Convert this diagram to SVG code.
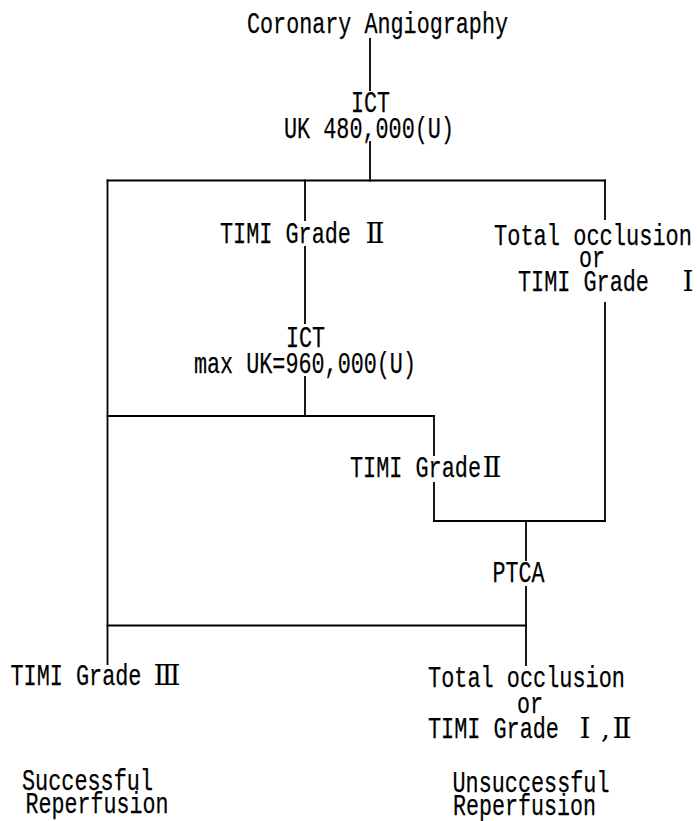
<svg xmlns="http://www.w3.org/2000/svg" width="697" height="821" viewBox="0 0 697 821">
<style>
.t{font-family:"Liberation Mono","DejaVu Serif","Noto Sans CJK JP",monospace;font-size:30px;fill:#000;stroke:#000;stroke-width:0.25;white-space:pre}
.n{font-family:"DejaVu Serif","Noto Sans CJK JP",serif;font-size:28px;stroke-width:0}
.c line{stroke:#000;stroke-width:1.8;stroke-linecap:square}
</style>
<rect width="697" height="821" fill="#fff"/>
<g id="connectors" class="c">
<line x1="370" y1="39" x2="370" y2="90"/>
<line x1="370" y1="142" x2="370" y2="180.5"/>
<line x1="107.5" y1="180.5" x2="605" y2="180.5"/>
<line x1="305" y1="180.5" x2="305" y2="220"/>
<line x1="305" y1="247" x2="305" y2="323"/>
<line x1="305" y1="377" x2="305" y2="416"/>
<line x1="605" y1="180.5" x2="605" y2="219"/>
<line x1="605" y1="303" x2="605" y2="521"/>
<line x1="107.5" y1="416" x2="434" y2="416"/>
<line x1="434" y1="416" x2="434" y2="455"/>
<line x1="434" y1="483" x2="434" y2="521"/>
<line x1="434" y1="521" x2="605" y2="521"/>
<line x1="526" y1="521" x2="526" y2="560"/>
<line x1="526" y1="587" x2="526" y2="665"/>
<line x1="107.5" y1="625.5" x2="526" y2="625.5"/>
<line x1="107.5" y1="180.5" x2="107.5" y2="664"/>
</g>
<g id="coronary"><text class="t" x="247" y="33" textLength="261" lengthAdjust="spacingAndGlyphs">Coronary Angiography</text></g>
<g id="ict1">
<text class="t" x="351" y="112" textLength="39" lengthAdjust="spacingAndGlyphs">ICT</text>
<text class="t" x="284" y="138" textLength="170" lengthAdjust="spacingAndGlyphs">UK 480,000(U)</text>
</g>
<g id="grade2a"><text class="t" x="220" y="243"><tspan textLength="144" lengthAdjust="spacingAndGlyphs">TIMI Grade </tspan><tspan class="n" x="375" text-anchor="middle">Ⅱ</tspan></text></g>
<g id="occlusion1">
<text class="t" x="494" y="245" textLength="198" lengthAdjust="spacingAndGlyphs">Total occlusion</text>
<text class="t" x="579" y="267" textLength="26" lengthAdjust="spacingAndGlyphs">or</text>
<text class="t" x="518" y="291"><tspan textLength="144" lengthAdjust="spacingAndGlyphs">TIMI Grade </tspan><tspan class="n" x="688" text-anchor="middle">Ⅰ</tspan></text>
</g>
<g id="ict2">
<text class="t" x="286" y="347" textLength="39" lengthAdjust="spacingAndGlyphs">ICT</text>
<text class="t" x="194" y="373" textLength="222" lengthAdjust="spacingAndGlyphs">max UK=960,000(U)</text>
</g>
<g id="grade2b"><text class="t" x="350" y="477"><tspan textLength="131" lengthAdjust="spacingAndGlyphs">TIMI Grade</tspan><tspan class="n" x="492" text-anchor="middle">Ⅱ</tspan></text></g>
<g id="ptca"><text class="t" x="492.5" y="582" textLength="52" lengthAdjust="spacingAndGlyphs">PTCA</text></g>
<g id="grade3"><text class="t" x="10.5" y="685"><tspan textLength="144" lengthAdjust="spacingAndGlyphs">TIMI Grade </tspan><tspan class="n" x="167" text-anchor="middle">Ⅲ</tspan></text></g>
<g id="occlusion2">
<text class="t" x="428" y="687" textLength="197" lengthAdjust="spacingAndGlyphs">Total occlusion</text>
<text class="t" x="517" y="713" textLength="26" lengthAdjust="spacingAndGlyphs">or</text>
<text class="t" x="428" y="738"><tspan textLength="144" lengthAdjust="spacingAndGlyphs">TIMI Grade </tspan><tspan class="n" x="585" text-anchor="middle">Ⅰ</tspan><tspan class="n" x="601">,</tspan><tspan class="n" x="622" text-anchor="middle">Ⅱ</tspan></text>
</g>
<g id="successful">
<text class="t" x="22" y="790" textLength="131" lengthAdjust="spacingAndGlyphs">Successful</text>
<text class="t" x="25.5" y="813" textLength="143" lengthAdjust="spacingAndGlyphs">Reperfusion</text>
</g>
<g id="unsuccessful">
<text class="t" x="452.5" y="792" textLength="157" lengthAdjust="spacingAndGlyphs">Unsuccessful</text>
<text class="t" x="453" y="815" textLength="143" lengthAdjust="spacingAndGlyphs">Reperfusion</text>
</g>
</svg>
